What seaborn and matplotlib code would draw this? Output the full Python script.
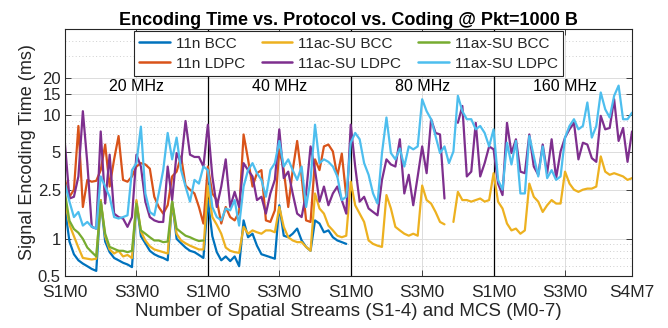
import numpy as np
import pandas as pd
import matplotlib
matplotlib.use("Agg")
import matplotlib.pyplot as plt
import seaborn as sns
from matplotlib.lines import Line2D
from matplotlib.ticker import FixedLocator, NullFormatter, NullLocator, LogLocator

nan = float("nan")

# ---------------- data (ms) ----------------
# x index: 4 bandwidths x (S1..S4) x (M0..M7) = 128 points
bandwidths = ["20 MHz", "40 MHz", "80 MHz", "160 MHz"]
tick_pos = [0, 16, 32, 48, 64, 80, 96, 112, 127]
tick_labels = ["S1M0", "S3M0", "S1M0", "S3M0", "S1M0", "S3M0", "S1M0", "S3M0", "S4M7"]
y_ticks = [0.5, 1, 2.5, 5, 10, 15, 20]
y_tick_labels = ["0.5", "1", "2.5", "5", "10", "15", "20"]

n_bcc_20 = [1.76, 0.95, 0.75, 0.67, 0.63, 0.60, 0.57, 0.55,
            2.06, 0.95, 0.78, 0.70, 0.67, 0.64, 0.62, 0.59,
            2.00, 1.05, 0.92, 0.80, 0.75, 0.72, 0.70, 0.67,
            2.00, 1.00, 0.92, 0.85, 0.80, 0.78, 0.74, 0.70]
n_bcc_40 = [2.06, 1.05, 0.78, 0.67, 0.72, 0.66, 0.72, 0.60,
            1.41, 1.03, 1.10, 0.88, 0.75, 0.73, 0.71, 0.69,
            1.87, 1.06, 1.03, 1.10, 1.21, 0.97, 0.86, 0.80,
            1.41, 1.33, 1.13, 1.17, 1.03, 0.97, 0.94, 0.91]

n_ldpc_20 = [3.00, 2.19, 2.50, 8.20, 1.81, 3.00, 2.90, 2.95,
             3.60, 5.80, 2.65, 4.40, 6.80, 3.00, 2.90, 3.20,
             3.85, 4.10, 4.00, 3.70, 2.19, 1.81, 1.60, 1.87,
             3.20, 3.50, 4.65, 2.70, 2.50, 2.33, 1.81, 1.33]
n_ldpc_40 = [3.85, 2.33, 2.06, 1.33, 1.81, 1.50, 1.41, 1.65,
             7.00, 4.40, 2.65, 3.40, 3.60, 1.41, 1.37, 1.70,
             5.30, 3.60, 1.81, 3.60, 6.20, 3.20, 1.41, 1.37,
             4.40, 3.60, 5.60, 5.80, 5.10, 3.20, 4.90, 2.20]

ac_bcc_20 = [2.06, 1.30, 1.05, 0.85, 0.70, 0.69, 0.68, 0.69,
             2.06, 1.05, 0.82, 0.76, 0.80, 0.72, 0.74, 0.70,
             2.06, 1.15, 0.97, 0.87, 0.82, 0.80, 0.78, 0.76,
             2.00, 1.10, 0.97, 0.92, 0.88, 0.85, 0.82, 0.82]
ac_bcc_40 = [2.70, 1.50, 1.30, 1.10, 0.85, 0.80, 0.78, 0.77,
             1.25, 1.10, 1.17, 1.13, 1.10, 1.17, 1.17, 1.13,
             1.81, 1.25, 1.03, 0.97, 0.94, 0.94, 0.86, 0.80,
             2.33, 1.76, 1.60, 1.28, 1.17, 1.06, 1.03, 1.06]
ac_bcc_80 = [2.90, 1.87, 1.60, 1.37, 0.97, 0.91, 0.88, 0.86,
             2.26, 1.76, 1.25, 1.17, 1.10, 1.06, 1.10, 1.06,
             2.70, 2.06, 1.93, 1.65, 1.37, 1.31, nan, 1.37,
             2.40, 2.06, 2.06, 2.00, 2.06, 2.12, 2.00, 2.06]
ac_bcc_160 = [3.40, 2.00, 1.76, 1.33, 1.17, 1.21, 1.10, 1.17,
              2.80, 2.19, 2.00, 1.65, 1.87, 2.06, 1.93, 1.93,
              3.50, 2.80, 2.50, 2.40, 2.50, 2.55, 2.55, 2.65,
              4.65, 3.50, 3.30, 3.40, 3.30, 3.20, 3.00, 3.10]

ac_ldpc_20 = [5.80, 2.12, 2.19, 3.20, 10.8, 4.10, 1.25, 1.21,
              7.40, 1.93, 4.80, 1.60, 1.50, 1.46, 1.25, 1.50,
              4.80, 3.85, 2.00, 1.50, 1.41, 1.37, 1.37, 3.85,
              2.06, 4.95, 4.10, 9.00, 4.80, 4.60, 4.60, 3.85]
ac_ldpc_40 = [8.40, 3.20, 1.81, 2.65, 4.40, 1.81, 2.40, 1.81,
              4.10, 3.60, 3.20, 2.06, 2.19, 1.60, 2.33, 3.00,
              7.70, 3.10, 3.50, 2.33, 1.60, 1.50, 2.33, 5.60,
              3.60, 2.00, 2.65, 1.87, 2.33, 2.65, 2.06, 1.60]
ac_ldpc_80 = [8.40, 3.85, 2.00, 2.19, 1.76, 1.65, 1.55, 3.00,
              4.40, 4.00, 3.85, 6.40, 2.33, 3.30, 1.87, 3.20,
              5.60, 3.40, 9.30, 7.20, 7.00, 2.12, nan, nan,
              8.70, 11.9, 3.20, 3.50, 8.70, 3.20, 4.10, 5.60]
ac_ldpc_160 = [5.30, 2.80, 2.26, 8.70, 4.95, 6.40, 3.50, 3.40,
               7.00, 3.85, 3.30, 5.80, 3.40, 6.40, 3.10, 5.10,
               6.60, 7.70, 8.70, 4.40, 6.00, 5.80, 4.50, 4.20,
               9.90, 7.70, 7.90, 13.5, 6.20, 7.90, 4.20, 7.40]

ax_bcc_20 = [2.33, 1.40, 1.20, 1.12, 1.00, 0.85, 0.78, 0.72,
             2.00, 1.10, 0.86, 0.83, 0.80, 0.80, 0.78, 0.80,
             1.93, 1.17, 1.10, 1.03, 0.97, 0.97, 0.94, 0.95,
             2.00, 1.21, 1.13, 1.06, 1.03, 0.99, 0.96, 0.97]

ax_ldpc_20 = [2.80, 2.00, 1.50, 1.65, 1.28, 1.37, 1.25, 1.21,
              3.20, 2.65, 2.19, 1.50, 1.46, 1.50, 1.55, 3.60,
              4.10, 8.10, 2.33, 1.65, 1.55, 2.33, 3.60, 7.20,
              4.40, 6.60, 3.60, 2.65, 2.00, 3.00, 2.80, 3.85]
ax_ldpc_40 = [3.60, 1.81, 1.50, 1.41, 1.76, 1.70, 2.06, 1.28,
              2.65, 3.60, 4.10, 3.40, 3.00, 2.19, 3.60, 4.10,
              6.20, 3.85, 4.40, 3.60, 3.00, 3.85, 1.81, 3.00,
              8.40, 4.10, 4.40, 4.20, 3.85, 3.20, 2.06, 2.19]
ax_ldpc_80 = [6.00, 7.20, 6.40, 4.10, 3.30, 2.33, 1.93, 4.95,
              9.60, 4.95, 4.40, 5.40, 3.85, 5.60, 5.30, 5.60,
              13.5, 10.8, 9.30, 6.80, 4.95, 5.60, 4.10, 5.10,
              14.4, 10.8, 9.30, 9.30, 7.70, 8.20, 7.20, 5.60]
ax_ldpc_160 = [7.70, 3.00, 2.50, 6.00, 4.00, 6.20, 2.33, 2.33,
               6.80, 4.65, 3.20, 5.60, 3.10, 3.60, 3.00, 3.20,
               6.60, 8.20, 9.30, 7.70, 8.20, 12.7, 6.60, 8.20,
               15.3, 11.2, 9.60, 14.4, 17.4, 9.30, 9.30, 10.5]

none32 = [nan] * 32
series_names = ["11n BCC", "11n LDPC", "11ac-SU BCC", "11ac-SU LDPC", "11ax-SU BCC", "11ax-SU LDPC"]
series_values = [
    n_bcc_20 + n_bcc_40 + none32 + none32,
    n_ldpc_20 + n_ldpc_40 + none32 + none32,
    ac_bcc_20 + ac_bcc_40 + ac_bcc_80 + ac_bcc_160,
    ac_ldpc_20 + ac_ldpc_40 + ac_ldpc_80 + ac_ldpc_160,
    ax_bcc_20 + none32 + none32 + none32,
    ax_ldpc_20 + ax_ldpc_40 + ax_ldpc_80 + ax_ldpc_160,
]
colors = ["#0072BD", "#D95319", "#EDB120", "#7E2F8E", "#77AC30", "#4DBEEE"]

# ---------------- long-form table (break lines at gaps) ----------------
rows = []
for name, vals in zip(series_names, series_values):
    chunk = 0
    for i, v in enumerate(vals):
        if np.isnan(v):
            chunk += 1
            continue
        rows.append((name, i, v, chunk))
df = pd.DataFrame(rows, columns=["series", "x", "t", "chunk"])

# ---------------- plot ----------------
sns.set_style("ticks")
plt.rcParams["font.family"] = ["Liberation Sans", "DejaVu Sans"]
TXT = "#262626"

fig = plt.figure(figsize=(6.68, 3.28), dpi=100)
ax = fig.add_axes([65 / 668, 1 - 276 / 328, (632 - 65) / 668, (276 - 29) / 328])
ax.set_yscale("log")

sns.lineplot(data=df, x="x", y="t", hue="series", hue_order=series_names,
             palette=dict(zip(series_names, colors)), units="chunk",
             estimator=None, sort=False, linewidth=1.6, legend=False, ax=ax)

ax.set_xlim(0, 127)
ax.set_ylim(0.5, 50)

ax.yaxis.set_major_locator(FixedLocator(y_ticks))
ax.set_yticklabels(y_tick_labels)
ax.yaxis.set_minor_locator(LogLocator(base=10, subs=np.arange(2, 10)))
ax.yaxis.set_minor_formatter(NullFormatter())
ax.xaxis.set_major_locator(FixedLocator(tick_pos))
ax.set_xticklabels(tick_labels)
ax.xaxis.set_minor_locator(NullLocator())

ax.grid(which="major", color="#dcdcdc", lw=0.7, ls="-")
ax.yaxis.grid(which="minor", color="#cfcfcf", lw=0.7, ls=(0, (1, 2.5)))
ax.set_axisbelow(True)

for xb in [32, 64, 96]:
    ax.axvline(xb, color="black", lw=0.9, zorder=1.5)

ax.tick_params(which="major", direction="in", length=4, width=0.6, color=TXT,
               labelcolor=TXT, top=True, right=True)
ax.tick_params(axis="x", which="major", pad=6.5, labelsize=12.5)
ax.tick_params(axis="y", which="major", pad=3, labelsize=12)
ax.tick_params(which="minor", length=0)
for lbl in ax.get_yticklabels():
    lbl.set_verticalalignment("center_baseline")
for s in ax.spines.values():
    s.set_color(TXT)
    s.set_linewidth(0.8)

for k, bw in enumerate(bandwidths):
    ax.text(16 + 32 * k, 17, bw, ha="center", va="center", fontsize=11.5, color="black")

ax.set_xlabel("Number of Spatial Streams (S1-4) and MCS (M0-7)", fontsize=13.5, color=TXT, labelpad=2)
ax.set_ylabel("Signal Encoding Time (ms)", fontsize=13, color=TXT, labelpad=1)
ax.set_title("Encoding Time vs. Protocol vs. Coding @ Pkt=1000 B", fontsize=13,
             fontweight="bold", color="black", pad=3)

handles = [Line2D([0], [0], color=c, lw=1.8) for c in colors]
leg = ax.legend(handles, series_names, loc="upper center", ncol=3, fontsize=11,
                frameon=True, fancybox=False, framealpha=1, edgecolor=TXT,
                borderaxespad=0.15, handlelength=2.0, handletextpad=0.4,
                columnspacing=1.1, labelspacing=0.4, borderpad=0.35)
leg.get_frame().set_linewidth(0.8)

fig.savefig("out.png", dpi=100)
